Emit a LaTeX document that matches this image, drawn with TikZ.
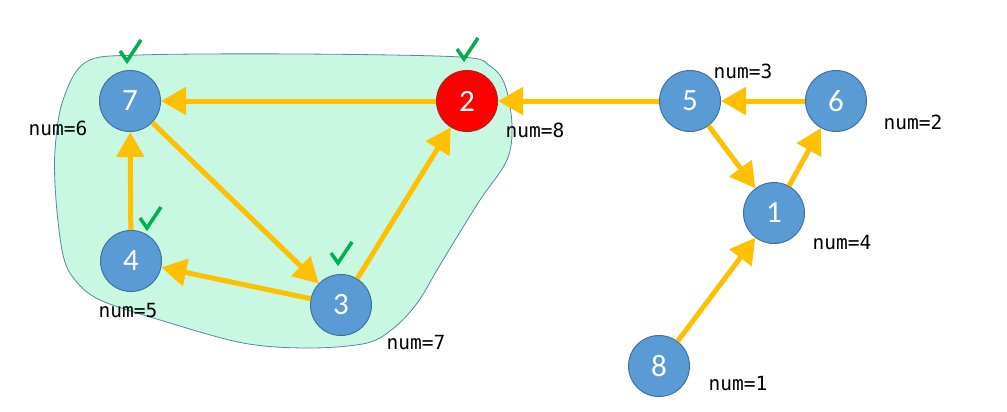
\documentclass[tikz,border=0pt]{standalone}
\usepackage{fontspec}
\setmainfont{Carlito}
\newfontfamily\labelfont{DejaVu Sans Mono}
\usetikzlibrary{arrows.meta}
\definecolor{vblue}{HTML}{5B9BD5}
\definecolor{vborder}{HTML}{41719C}
\definecolor{vred}{HTML}{FF0000}
\definecolor{vredborder}{HTML}{B02020}
\definecolor{arc}{HTML}{FFC000}
\definecolor{mint}{RGB}{200,248,226}
\definecolor{blobline}{HTML}{5A84A6}
\definecolor{tickgreen}{HTML}{00B050}
\begin{document}
\begin{tikzpicture}[
    x=1pt, y=-1pt,
    vertex/.style={circle, draw=vborder, fill=vblue, line width=1pt,
        minimum size=61pt, inner sep=0pt, text=white,
        font=\fontsize{31}{31}\selectfont},
    edge/.style={draw=arc, line width=5pt, -{Triangle[length=25pt,width=27pt]}},
    numlabel/.style={font=\labelfont\fontsize{19.5}{19.5}\selectfont},
    tickline/.style={draw=tickgreen, line width=3.5pt, line join=miter}
]
\useasboundingbox (0,0) rectangle (1007,412);
% visited region
\draw[blobline, fill=mint, line width=0.8pt] plot[smooth cycle, tension=0.55] coordinates {
    (86,62) (140,55) (300,54) (460,57) (490,66) (505,85) (512,125) (507,160)
    (480,200) (457,237) (437,270) (418,302) (395,327) (367,343) (310,348)
    (243,343) (160,320) (100,300) (75,280) (63,255) (56,200) (55,150) (63,100)};

\node[vertex] (v7) at (130,101) {7};
\node[vertex, fill=vred, draw=vredborder] (v2) at (467,101) {2};
\node[vertex] (v5) at (690,101) {5};
\node[vertex] (v6) at (836,101) {6};
\node[vertex] (v1) at (774,213) {1};
\node[vertex] (v4) at (131,261) {4};
\node[vertex] (v3) at (341,305) {3};
\node[vertex] (v8) at (659,366) {8};

\draw[edge] (v2) -- (v7);
\draw[edge] (v7) -- (v3);
\draw[edge] (v4) -- (v7);
\draw[edge] (v3) -- (v4);
\draw[edge] (v3) -- (v2);
\draw[edge] (v5) -- (v2);
\draw[edge] (v6) -- (v5);
\draw[edge] (v5) -- (v1);
\draw[edge] (v1) -- (v6);
\draw[edge] (v8) -- (v1);

\node[numlabel] (n7) at (58,128) {num=6};
\node[numlabel] (n2) at (535,130) {num=8};
\node[numlabel] (n5) at (743,71) {num=3};
\node[numlabel] (n6) at (913,122) {num=2};
\node[numlabel] (n1) at (842,243) {num=4};
\node[numlabel] (n4) at (128,311) {num=5};
\node[numlabel] (n3) at (416,343) {num=7};
\node[numlabel] (n8) at (738,384) {num=1};

% check marks
\coordinate (t7) at (130,52);
\coordinate (t2) at (467,50);
\coordinate (t4) at (150,219);
\coordinate (t3) at (341,254);
\foreach \t in {t7,t2,t4,t3}
    \draw[tickline] (\t) ++(-10,-1) -- ++(7,10) -- ++(14,-21);
\end{tikzpicture}
\end{document}
